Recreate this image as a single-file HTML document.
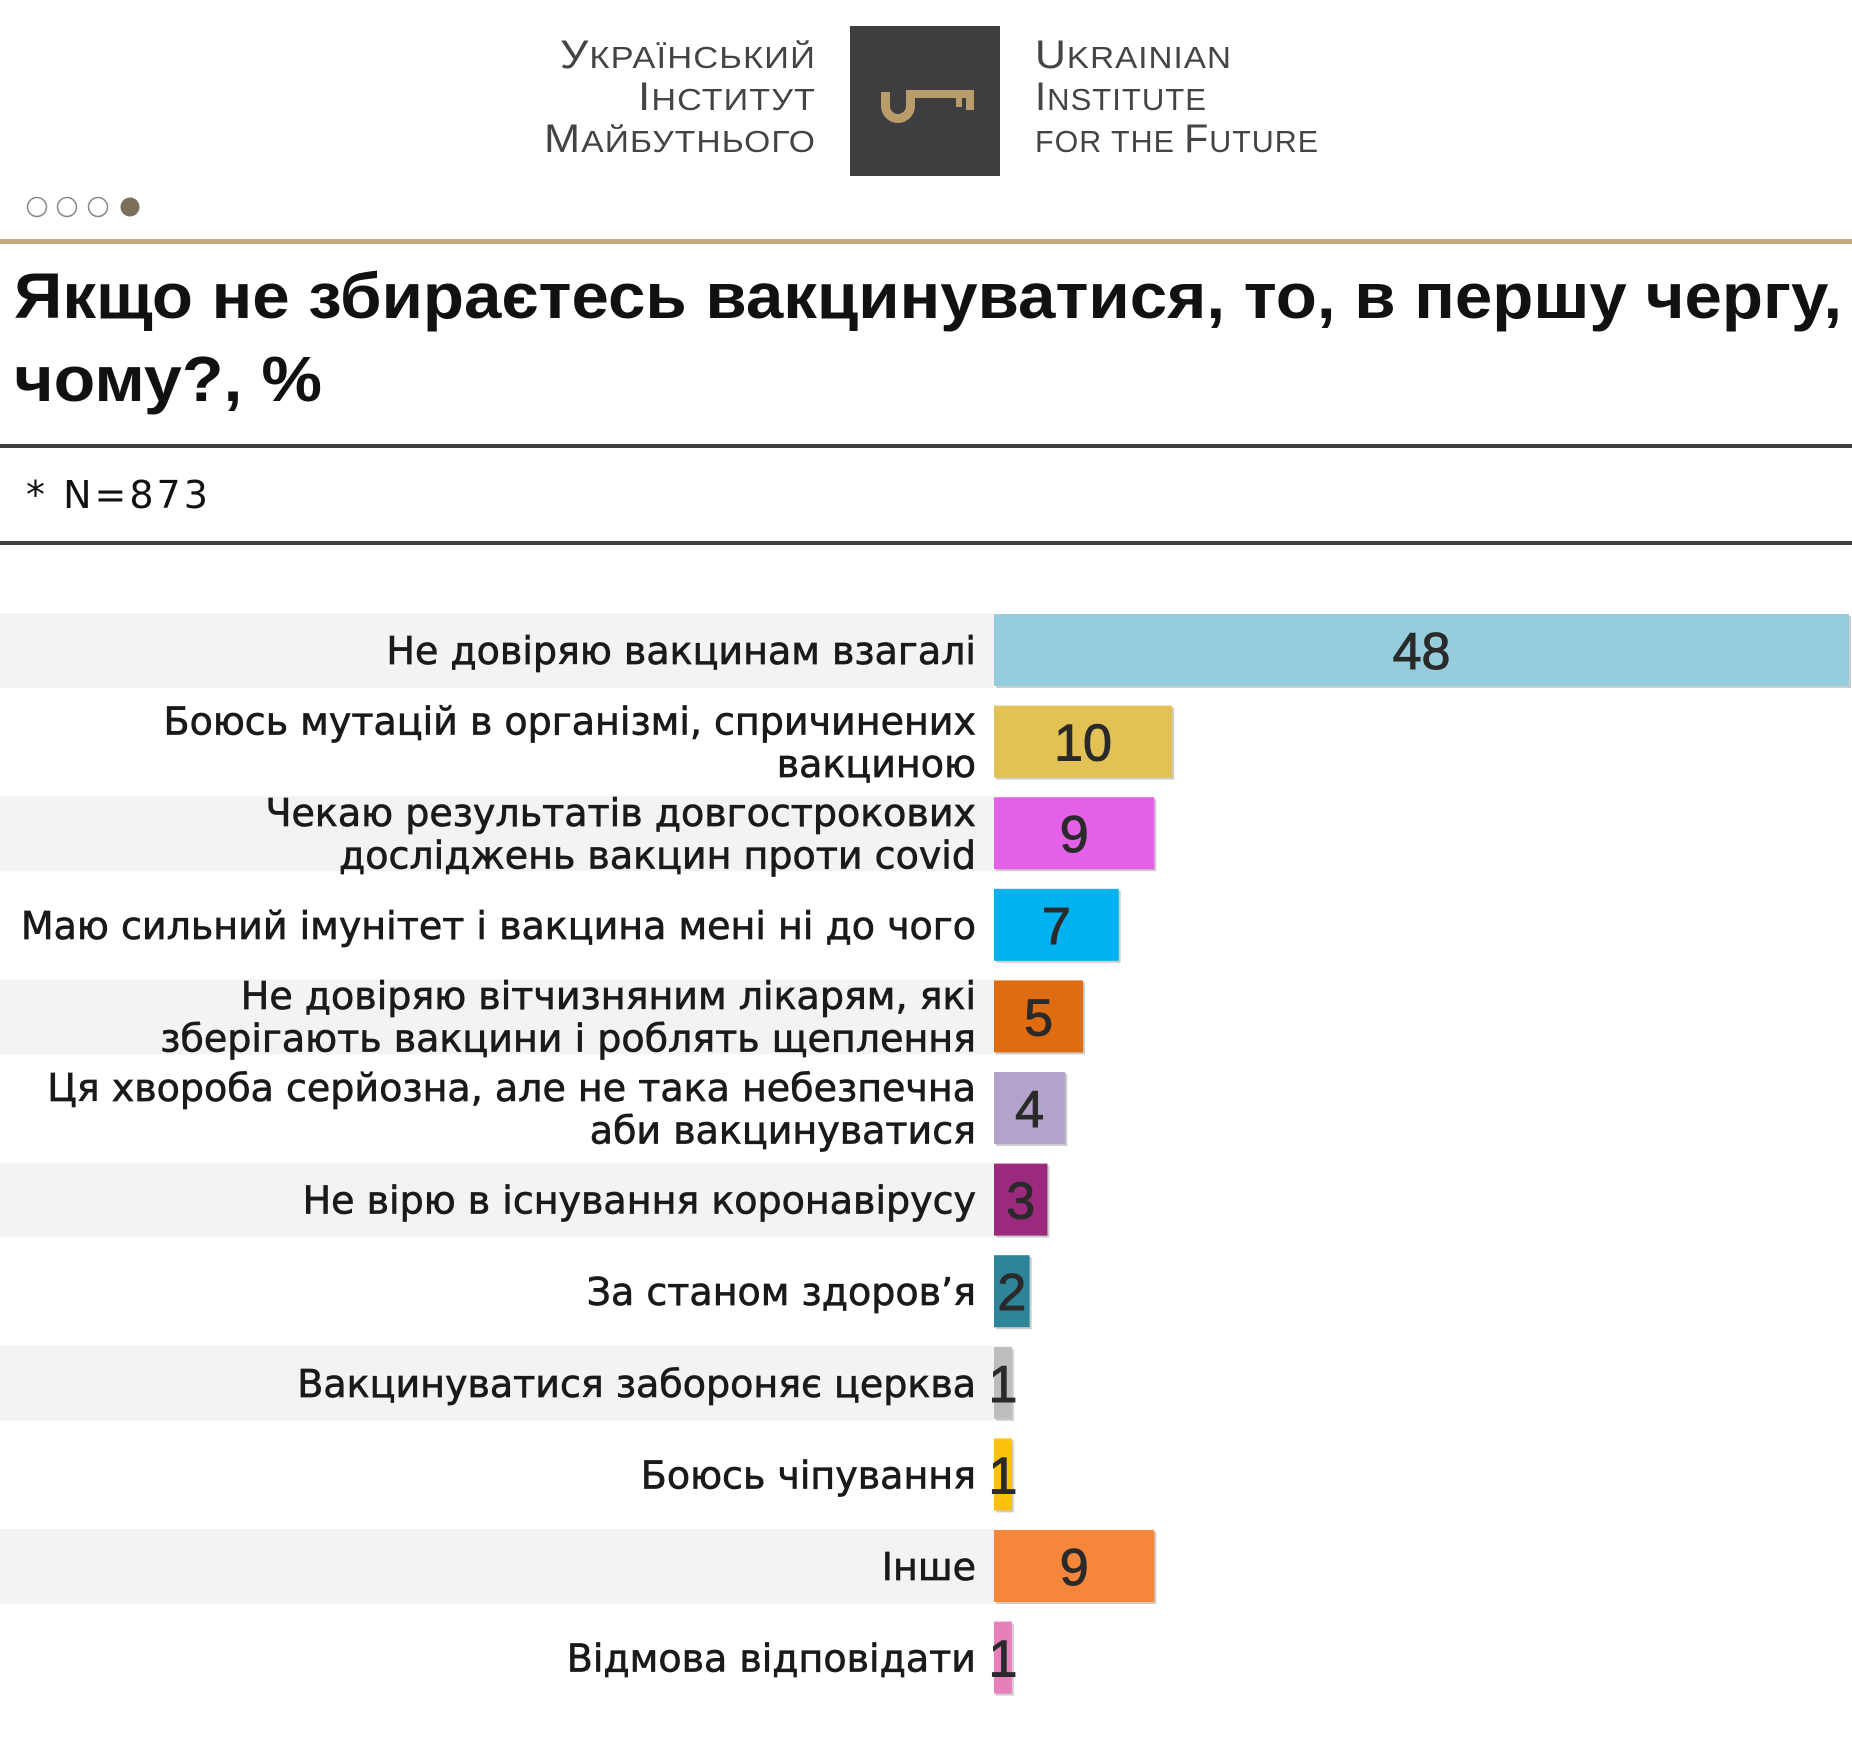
<!DOCTYPE html>
<html><head><meta charset="utf-8"><style>
html,body{margin:0;padding:0;background:#fff;}
svg{display:block;font-family:"Liberation Sans","DejaVu Sans",sans-serif;}
</style></head><body>
<svg id="chart" width="1852" height="1739" viewBox="0 0 1852 1739" xmlns="http://www.w3.org/2000/svg">
<g>
  <g fill="#444" font-size="31" letter-spacing="1">
    <text x="816" y="68" text-anchor="end" textLength="256" lengthAdjust="spacingAndGlyphs"><tspan font-size="40">У</tspan>КРАЇНСЬКИЙ</text>
    <text x="816" y="110" text-anchor="end" textLength="178" lengthAdjust="spacingAndGlyphs"><tspan font-size="40">І</tspan>НСТИТУТ</text>
    <text x="816" y="152" text-anchor="end" textLength="272" lengthAdjust="spacingAndGlyphs"><tspan font-size="40">М</tspan>АЙБУТНЬОГО</text>
    <text x="1035" y="68" textLength="197" lengthAdjust="spacingAndGlyphs"><tspan font-size="40">U</tspan>KRAINIAN</text>
    <text x="1035" y="110" textLength="172" lengthAdjust="spacingAndGlyphs"><tspan font-size="40">I</tspan>NSTITUTE</text>
    <text x="1035" y="152" textLength="284" lengthAdjust="spacingAndGlyphs">FOR THE <tspan font-size="40">F</tspan>UTURE</text>
  </g>
  <rect x="850" y="26" width="150" height="150" fill="#3e3e40"/>
  <g fill="#b89c6a">
    <path d="M881 92 h9 v14 a8 8 0 0 0 16 0 v-14 h9 v14 a17 17 0 0 1 -34 0 z"/>
    <rect x="906" y="90" width="68" height="8"/>
    <rect x="956" y="98" width="6" height="9"/>
    <rect x="966" y="98" width="8" height="12"/>
  </g>
</g>
<g>
  <circle cx="37" cy="207" r="9.5" fill="#fff" stroke="#888" stroke-width="1.5"/>
  <circle cx="67" cy="207" r="9.5" fill="#fff" stroke="#888" stroke-width="1.5"/>
  <circle cx="98" cy="207" r="9.5" fill="#fff" stroke="#888" stroke-width="1.5"/>
  <circle cx="130" cy="207" r="9.5" fill="#7d705a"/>
</g>
<rect x="0" y="239" width="1852" height="5" fill="#c4aa7c"/>
<g font-weight="bold" font-size="64" fill="#111">
  <text x="14" y="318" textLength="1828" lengthAdjust="spacingAndGlyphs">Якщо не збираєтесь вакцинуватися, то, в першу чергу,</text>
  <text x="14" y="401" textLength="308" lengthAdjust="spacingAndGlyphs">чому?, %</text>
</g>
<rect x="0" y="444" width="1852" height="4" fill="#3f3f3f"/>
<text x="26" y="508" font-size="38" fill="#111" letter-spacing="3" style="font-family:'DejaVu Sans',sans-serif">* N=873</text>
<rect x="0" y="541" width="1852" height="4" fill="#3f3f3f"/>
<g id="plot"></g>
</svg>
<script>
const categories = [
  ["Не довіряю вакцинам взагалі"],
  ["Боюсь мутацій в організмі, спричинених","вакциною"],
  ["Чекаю результатів довгострокових","досліджень вакцин проти covid"],
  ["Маю сильний імунітет і вакцина мені ні до чого"],
  ["Не довіряю вітчизняним лікарям, які","зберігають вакцини і роблять щеплення"],
  ["Ця хвороба серйозна, але не така небезпечна","аби вакцинуватися"],
  ["Не вірю в існування коронавірусу"],
  ["За станом здоров’я"],
  ["Вакцинуватися забороняє церква"],
  ["Боюсь чіпування"],
  ["Інше"],
  ["Відмова відповідати"]
];
const values = [48, 10, 9, 7, 5, 4, 3, 2, 1, 1, 9, 1];
const valueLabels = ["48","10","9","7","5","4","3","2","1","1","9","1"];
const barColors = ["#95cddd","#e2c155","#e460e8","#00b2ef","#e06c12","#b3a2c9","#9b2a7e","#2e8499","#bdbdbd","#fcc20a","#f6863a","#e87eba"];

const NS = "http://www.w3.org/2000/svg";
const plot = document.getElementById("plot");
const x0 = 994, unit = 855/48;
const xScale = v => v * unit;
const yTop = i => 614 + i * 91.6;
const barH = 72;
function mk(tag, attrs){const e=document.createElementNS(NS,tag);for(const k in attrs)e.setAttribute(k,attrs[k]);return e;}

categories.forEach((lines, i) => {
  const y = yTop(i);
  if (i % 2 === 0) {
    const band = mk("rect",{x:0,y:y-1,width:x0,height:75,fill:"#f3f3f3"});
    
    
    plot.appendChild(band);
  }
  const w = xScale(values[i]);
  const shadow = mk("rect",{x:x0+2,y:y+2,width:w,height:barH,fill:"#ccc"});
  
  
  plot.appendChild(shadow);
  const bar = mk("rect",{x:x0,y:y,width:w,height:barH,fill:barColors[i]});
  
  
  plot.appendChild(bar);
  const val = mk("text",{x:x0+w/2,y:y+barH/2+19,"text-anchor":"middle","font-size":52,fill:"#2a2a2a",stroke:"#2a2a2a","stroke-width":1});
  val.textContent = valueLabels[i];
  
  
  plot.appendChild(val);
  const cy = y + barH/2;
  const lh = 42.5;
  lines.forEach((ln, j) => {
    const ty = cy + 14 + (j - (lines.length-1)/2) * lh;
    const t = mk("text",{x:976,y:ty,"text-anchor":"end","font-size":38,fill:"#1a1a1a",stroke:"#1a1a1a","stroke-width":0.7,style:"font-family:'DejaVu Sans',sans-serif"});
    t.textContent = ln;
    
    
    plot.appendChild(t);
  });
});
</script>
</body></html>
